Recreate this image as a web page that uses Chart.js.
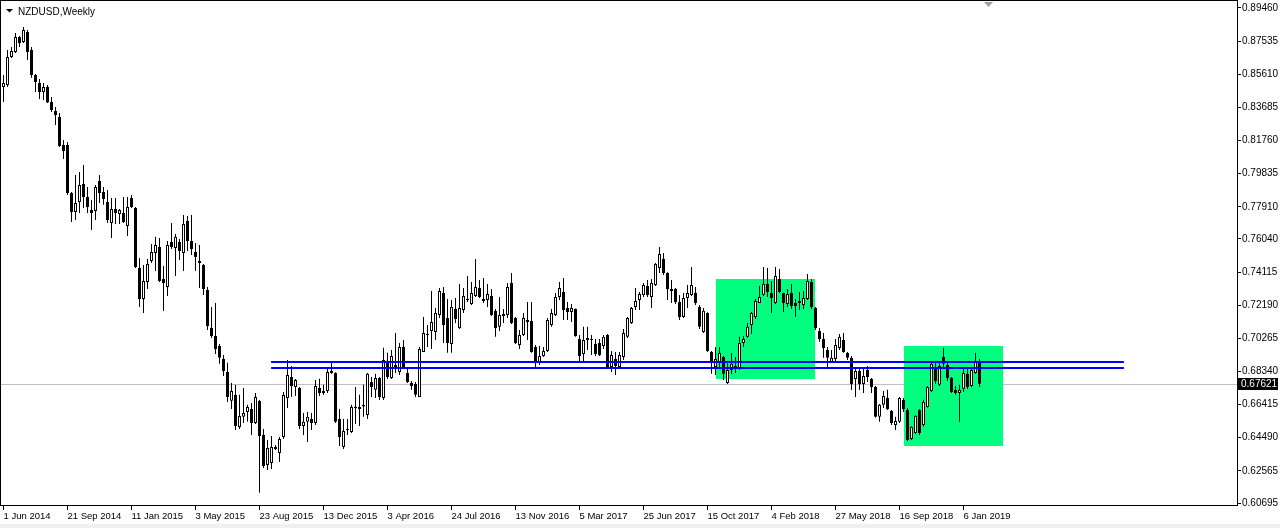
<!DOCTYPE html>
<html>
<head>
<meta charset="utf-8">
<title>NZDUSD,Weekly</title>
<script src="https://cdn.jsdelivr.net/npm/chart.js@4.4.1/dist/chart.umd.min.js"></script>
<style>
  html, body { margin: 0; padding: 0; background: #fff; }
  canvas { display: block; }
</style>
</head>
<body>
<canvas id="chart" width="1280" height="528"></canvas>
<script>
const symbol = 'NZDUSD,Weekly'

// weekly candles, first one is the week of 1 Jun 2014
const open = [
  0.8487, 0.8499, 0.8661, 0.8690, 0.8778, 0.8748, 0.8807, 0.8702, 0.8557, 0.8510,
  0.8458, 0.8487, 0.8400, 0.8348, 0.8313, 0.8150, 0.8150, 0.7871, 0.7761, 0.7819,
  0.7924, 0.7848, 0.7772, 0.7767, 0.7941, 0.7877, 0.7819, 0.7697, 0.7778, 0.7749,
  0.7755, 0.7679, 0.7842, 0.7784, 0.7435, 0.7255, 0.7354, 0.7476, 0.7522, 0.7557,
  0.7371, 0.7325, 0.7586, 0.7551, 0.7586, 0.7522, 0.7709, 0.7592, 0.7528, 0.7476,
  0.7453, 0.7307, 0.7087, 0.7040, 0.6982, 0.6907, 0.6831, 0.6663, 0.6698, 0.6511,
  0.6570, 0.6599, 0.6616, 0.6535, 0.6662, 0.6465, 0.6290, 0.6302, 0.6395, 0.6360,
  0.6453, 0.6680, 0.6802, 0.6744, 0.6738, 0.6517, 0.6541, 0.6558, 0.6535, 0.6738,
  0.6721, 0.6721, 0.6837, 0.6825, 0.6558, 0.6395, 0.6494, 0.6482, 0.6620, 0.6616,
  0.6630, 0.6581, 0.6773, 0.6727, 0.6796, 0.6680, 0.6889, 0.6796, 0.6872, 0.6831,
  0.6976, 0.6825, 0.6767, 0.6761, 0.6686, 0.6947, 0.7052, 0.7069, 0.7063, 0.7162,
  0.7290, 0.7145, 0.6994, 0.7197, 0.7087, 0.7191, 0.7249, 0.7226, 0.7273, 0.7319,
  0.7255, 0.7249, 0.7273, 0.7186, 0.7093, 0.7156, 0.7162, 0.7348, 0.7145, 0.6988,
  0.7046, 0.7133, 0.7127, 0.6976, 0.6883, 0.6924, 0.6953, 0.7104, 0.7162, 0.7267,
  0.7296, 0.7203, 0.7180, 0.7197, 0.7023, 0.6936, 0.7017, 0.7017, 0.6994, 0.7000,
  0.6982, 0.7046, 0.6860, 0.6907, 0.6860, 0.6918, 0.7035, 0.7116, 0.7209, 0.7249,
  0.7278, 0.7331, 0.7267, 0.7336, 0.7435, 0.7488, 0.7406, 0.7313, 0.7313, 0.7238,
  0.7151, 0.7261, 0.7278, 0.7290, 0.7209, 0.7063, 0.7174, 0.6947, 0.6860, 0.6889,
  0.6918, 0.6767, 0.6843, 0.6866, 0.6849, 0.7000, 0.7035, 0.7104, 0.7151, 0.7232,
  0.7279, 0.7342, 0.7290, 0.7232, 0.7371, 0.7290, 0.7226, 0.7290, 0.7232, 0.7232,
  0.7220, 0.7255, 0.7354, 0.7203, 0.7069, 0.7023, 0.6959, 0.6889, 0.6907, 0.6970,
  0.7017, 0.6941, 0.6913, 0.6790, 0.6837, 0.6761, 0.6843, 0.6790, 0.6744, 0.6570,
  0.6640, 0.6680, 0.6605, 0.6523, 0.6541, 0.6668, 0.6610, 0.6442, 0.6477, 0.6610,
  0.6523, 0.6628, 0.6721, 0.6860, 0.6756, 0.6918, 0.6872, 0.6796, 0.6727, 0.6709,
  0.6733, 0.6820, 0.6750, 0.6825, 0.6889
]
const high = [
  0.8557, 0.8702, 0.8719, 0.8801, 0.8784, 0.8836, 0.8818, 0.8719, 0.8563, 0.8533,
  0.8510, 0.8499, 0.8429, 0.8371, 0.8336, 0.8179, 0.8167, 0.7877, 0.7976, 0.7993,
  0.8034, 0.7906, 0.7830, 0.7918, 0.7976, 0.7906, 0.7889, 0.7842, 0.7842, 0.7778,
  0.7848, 0.7848, 0.7860, 0.7790, 0.7493, 0.7453, 0.7487, 0.7575, 0.7616, 0.7610,
  0.7447, 0.7592, 0.7697, 0.7633, 0.7604, 0.7743, 0.7738, 0.7743, 0.7581, 0.7569,
  0.7458, 0.7325, 0.7209, 0.7232, 0.6994, 0.6930, 0.6884, 0.6767, 0.6756, 0.6698,
  0.6738, 0.6640, 0.6651, 0.6709, 0.6668, 0.6500, 0.6436, 0.6459, 0.6406, 0.6453,
  0.6715, 0.6901, 0.6866, 0.6790, 0.6744, 0.6593, 0.6599, 0.6593, 0.6785, 0.6791,
  0.6756, 0.6849, 0.6884, 0.6830, 0.6616, 0.6558, 0.6558, 0.6640, 0.6744, 0.6698,
  0.6756, 0.6825, 0.6802, 0.6820, 0.6802, 0.6971, 0.6942, 0.6959, 0.7058, 0.7000,
  0.7017, 0.6860, 0.6779, 0.6773, 0.6976, 0.7150, 0.7104, 0.7302, 0.7203, 0.7319,
  0.7325, 0.7255, 0.7249, 0.7261, 0.7342, 0.7319, 0.7388, 0.7354, 0.7487, 0.7365,
  0.7377, 0.7342, 0.7313, 0.7197, 0.7267, 0.7197, 0.7348, 0.7406, 0.7151, 0.7075,
  0.7174, 0.7238, 0.7238, 0.6988, 0.6982, 0.6976, 0.7145, 0.7197, 0.7290, 0.7354,
  0.7377, 0.7238, 0.7226, 0.7200, 0.7046, 0.7093, 0.7093, 0.7046, 0.7023, 0.7023,
  0.7046, 0.7052, 0.6953, 0.6947, 0.6947, 0.7081, 0.7151, 0.7209, 0.7319, 0.7296,
  0.7348, 0.7365, 0.7371, 0.7464, 0.7557, 0.7522, 0.7410, 0.7365, 0.7319, 0.7278,
  0.7290, 0.7336, 0.7441, 0.7325, 0.7220, 0.7203, 0.7178, 0.6953, 0.6976, 0.6976,
  0.6924, 0.6895, 0.6941, 0.6918, 0.7035, 0.7040, 0.7116, 0.7180, 0.7255, 0.7331,
  0.7441, 0.7435, 0.7360, 0.7441, 0.7429, 0.7292, 0.7313, 0.7342, 0.7255, 0.7296,
  0.7302, 0.7400, 0.7371, 0.7209, 0.7087, 0.7058, 0.6976, 0.6959, 0.7023, 0.7052,
  0.7058, 0.6947, 0.6924, 0.6860, 0.6854, 0.6860, 0.6866, 0.6796, 0.6750, 0.6645,
  0.6721, 0.6727, 0.6610, 0.6570, 0.6686, 0.6680, 0.6622, 0.6515, 0.6580, 0.6616,
  0.6669, 0.6750, 0.6889, 0.6884, 0.6889, 0.6971, 0.6889, 0.6802, 0.6750, 0.6756,
  0.6849, 0.6849, 0.6854, 0.6941, 0.6907
]
const low = [
  0.8400, 0.8487, 0.8655, 0.8685, 0.8719, 0.8743, 0.8644, 0.8540, 0.8458, 0.8417,
  0.8411, 0.8394, 0.8342, 0.8266, 0.8138, 0.8068, 0.7860, 0.7703, 0.7714, 0.7755,
  0.7784, 0.7755, 0.7656, 0.7714, 0.7813, 0.7802, 0.7697, 0.7610, 0.7691, 0.7691,
  0.7697, 0.7621, 0.7784, 0.7435, 0.7209, 0.7174, 0.7313, 0.7464, 0.7418, 0.7354,
  0.7185, 0.7273, 0.7546, 0.7389, 0.7482, 0.7418, 0.7534, 0.7511, 0.7418, 0.7319,
  0.7278, 0.7075, 0.7029, 0.6936, 0.6878, 0.6808, 0.6657, 0.6616, 0.6494, 0.6500,
  0.6535, 0.6541, 0.6465, 0.6529, 0.6129, 0.6273, 0.6261, 0.6267, 0.6377, 0.6308,
  0.6441, 0.6622, 0.6686, 0.6692, 0.6500, 0.6465, 0.6424, 0.6494, 0.6523, 0.6692,
  0.6698, 0.6709, 0.6820, 0.6535, 0.6401, 0.6383, 0.6465, 0.6477, 0.6528, 0.6517,
  0.6570, 0.6558, 0.6686, 0.6680, 0.6668, 0.6668, 0.6790, 0.6790, 0.6825, 0.6814,
  0.6849, 0.6767, 0.6727, 0.6686, 0.6686, 0.6947, 0.6976, 0.6965, 0.7017, 0.7145,
  0.7000, 0.6942, 0.6942, 0.7115, 0.7081, 0.7174, 0.7238, 0.7220, 0.7267, 0.7261,
  0.7232, 0.7209, 0.7156, 0.7035, 0.7069, 0.7115, 0.7145, 0.7110, 0.6994, 0.6965,
  0.7040, 0.7017, 0.6942, 0.6860, 0.6872, 0.6918, 0.6947, 0.7093, 0.7156, 0.7249,
  0.7133, 0.7133, 0.7122, 0.7035, 0.6889, 0.6889, 0.6959, 0.6930, 0.6924, 0.6924,
  0.6965, 0.6854, 0.6831, 0.6814, 0.6854, 0.6901, 0.7029, 0.7110, 0.7191, 0.7191,
  0.7267, 0.7267, 0.7203, 0.7331, 0.7406, 0.7395, 0.7249, 0.7232, 0.7226, 0.7133,
  0.7145, 0.7203, 0.7273, 0.7220, 0.7081, 0.7058, 0.6947, 0.6820, 0.6814, 0.6849,
  0.6784, 0.6761, 0.6819, 0.6825, 0.6843, 0.6976, 0.7029, 0.7052, 0.7139, 0.7232,
  0.7273, 0.7267, 0.7174, 0.7226, 0.7290, 0.7180, 0.7209, 0.7197, 0.7151, 0.7191,
  0.7197, 0.7249, 0.7197, 0.7075, 0.7006, 0.6913, 0.6854, 0.6883, 0.6895, 0.6959,
  0.6942, 0.6901, 0.6726, 0.6686, 0.6726, 0.6709, 0.6773, 0.6709, 0.6565, 0.6541,
  0.6622, 0.6610, 0.6523, 0.6494, 0.6535, 0.6599, 0.6430, 0.6436, 0.6471, 0.6465,
  0.6512, 0.6624, 0.6715, 0.6761, 0.6750, 0.6860, 0.6779, 0.6709, 0.6698, 0.6541,
  0.6715, 0.6732, 0.6744, 0.6820, 0.6744
]
const close = [
  0.8510, 0.8661, 0.8696, 0.8778, 0.8743, 0.8818, 0.8690, 0.8557, 0.8516, 0.8458,
  0.8487, 0.8397, 0.8353, 0.8324, 0.8144, 0.8115, 0.7871, 0.7761, 0.7813, 0.7918,
  0.7848, 0.7790, 0.7755, 0.7906, 0.7871, 0.7836, 0.7714, 0.7778, 0.7755, 0.7772,
  0.7703, 0.7790, 0.7790, 0.7441, 0.7255, 0.7360, 0.7458, 0.7528, 0.7569, 0.7360,
  0.7348, 0.7569, 0.7557, 0.7616, 0.7534, 0.7691, 0.7592, 0.7546, 0.7499, 0.7464,
  0.7313, 0.7098, 0.7040, 0.6965, 0.6913, 0.6837, 0.6686, 0.6721, 0.6517, 0.6575,
  0.6593, 0.6628, 0.6535, 0.6686, 0.6459, 0.6284, 0.6389, 0.6395, 0.6383, 0.6441,
  0.6697, 0.6814, 0.6750, 0.6785, 0.6517, 0.6541, 0.6570, 0.6535, 0.6750, 0.6709,
  0.6709, 0.6831, 0.6825, 0.6541, 0.6453, 0.6488, 0.6500, 0.6628, 0.6630, 0.6628,
  0.6640, 0.6820, 0.6744, 0.6796, 0.6686, 0.6901, 0.6802, 0.6924, 0.6854, 0.6976,
  0.6854, 0.6773, 0.6750, 0.6698, 0.6965, 0.7058, 0.7046, 0.7121, 0.7174, 0.7302,
  0.7104, 0.7000, 0.7209, 0.7139, 0.7203, 0.7273, 0.7255, 0.7290, 0.7325, 0.7267,
  0.7244, 0.7284, 0.7162, 0.7087, 0.7162, 0.7168, 0.7325, 0.7116, 0.7000, 0.7046,
  0.7145, 0.7122, 0.6947, 0.6883, 0.6924, 0.6953, 0.7133, 0.7174, 0.7267, 0.7319,
  0.7191, 0.7180, 0.7203, 0.7040, 0.6924, 0.7017, 0.7029, 0.7023, 0.6936, 0.6930,
  0.7035, 0.6860, 0.6930, 0.6866, 0.6930, 0.7058, 0.7145, 0.7203, 0.7244, 0.7284,
  0.7336, 0.7278, 0.7348, 0.7459, 0.7516, 0.7406, 0.7313, 0.7302, 0.7238, 0.7151,
  0.7261, 0.7290, 0.7336, 0.7232, 0.7093, 0.7186, 0.6953, 0.6883, 0.6907, 0.6942,
  0.6820, 0.6842, 0.6878, 0.6849, 0.7000, 0.7023, 0.7093, 0.7174, 0.7244, 0.7267,
  0.7342, 0.7296, 0.7261, 0.7389, 0.7296, 0.7232, 0.7284, 0.7215, 0.7215, 0.7244,
  0.7261, 0.7360, 0.7209, 0.7087, 0.7023, 0.6970, 0.6913, 0.6913, 0.6988, 0.7035,
  0.6947, 0.6913, 0.6761, 0.6837, 0.6761, 0.6808, 0.6802, 0.6744, 0.6570, 0.6640,
  0.6692, 0.6616, 0.6535, 0.6546, 0.6680, 0.6616, 0.6436, 0.6512, 0.6576, 0.6477,
  0.6657, 0.6744, 0.6878, 0.6779, 0.6866, 0.6878, 0.6796, 0.6715, 0.6709, 0.6727,
  0.6825, 0.6744, 0.6843, 0.6889, 0.6762
]

// time axis labels, one every 16 weeks
const dateLabels = [
  '1 Jun 2014', '21 Sep 2014', '11 Jan 2015', '3 May 2015', '23 Aug 2015', '13 Dec 2015',
  '3 Apr 2016', '24 Jul 2016', '13 Nov 2016', '5 Mar 2017', '25 Jun 2017', '15 Oct 2017',
  '4 Feb 2018', '27 May 2018', '16 Sep 2018', '6 Jan 2019'
]
const labelStep = 16
const priceTicks = [
  0.89460, 0.87535, 0.85610, 0.83685, 0.81760, 0.79835, 0.77910, 0.76040,
  0.74115, 0.72190, 0.70265, 0.68340, 0.66415, 0.64490, 0.62565, 0.60695
]
const lastPrice = 0.67621

// drawn objects, in bar index / price units
const levelPrices = [0.68888, 0.68539]
const levelSpan = [66.9, 280.1]
const boxStart = [178, 225]
const boxEnd = [203, 250]
const boxTop = [0.73711, 0.69818]
const boxBottom = [0.67917, 0.64024]
const shiftBar = 246

const pxPerPrice = 1720.85
const yMax = 0.89460 + 8 / pxPerPrice
const yMin = yMax - 506 / pxPerPrice

Chart.defaults.font.family = '"Liberation Sans", Arial, sans-serif'
Chart.defaults.color = '#000'

const idx = open.map((_, i) => i)
const wicks = idx.map(i => ({ x: i, y: [low[i], high[i]] }))
const bodies = idx.map(i => ({ x: i, y: [open[i], close[i]] }))

const overlay = {
  id: 'overlay',
  beforeDraw(chart) {
    const { ctx } = chart
    ctx.save()
    ctx.fillStyle = '#fff'
    ctx.fillRect(0, 0, chart.width, chart.height)
    ctx.fillStyle = '#f0f0f0'
    ctx.fillRect(0, 524, chart.width, 4)
    ctx.restore()
  },
  beforeDatasetsDraw(chart) {
    const { ctx, chartArea: a, scales: { x, y } } = chart
    ctx.save()
    const py = Math.round(y.getPixelForValue(lastPrice)) + 0.5
    ctx.strokeStyle = '#c0c0c0'
    ctx.lineWidth = 1
    ctx.beginPath()
    ctx.moveTo(a.left, py)
    ctx.lineTo(a.right, py)
    ctx.stroke()
    ctx.fillStyle = '#00ff7f'
    boxStart.forEach((b, k) => {
      const x1 = Math.round(x.getPixelForValue(b))
      const x2 = Math.round(x.getPixelForValue(boxEnd[k]))
      const y1 = Math.round(y.getPixelForValue(boxTop[k]))
      const y2 = Math.round(y.getPixelForValue(boxBottom[k]))
      ctx.fillRect(x1, y1, x2 - x1, y2 - y1)
    })
    ctx.restore()
  },
  afterDatasetsDraw(chart) {
    const { ctx, scales: { x, y } } = chart
    ctx.save()
    ctx.strokeStyle = '#0000ff'
    ctx.lineWidth = 2
    const x1 = x.getPixelForValue(levelSpan[0])
    const x2 = x.getPixelForValue(levelSpan[1])
    levelPrices.forEach(p => {
      const ly = Math.round(y.getPixelForValue(p))
      ctx.beginPath()
      ctx.moveTo(x1, ly)
      ctx.lineTo(x2, ly)
      ctx.stroke()
    })
    ctx.restore()
  },
  afterDraw(chart) {
    const { ctx, chartArea: a, scales: { x, y } } = chart
    ctx.save()
    // frame
    ctx.strokeStyle = '#000'
    ctx.lineWidth = 1
    ctx.strokeRect(a.left + 0.5, a.top + 0.5, a.right - a.left - 1, a.bottom - a.top - 1)

    // symbol caption
    ctx.fillStyle = '#000'
    ctx.beginPath()
    ctx.moveTo(6, 9)
    ctx.lineTo(13, 9)
    ctx.lineTo(9.5, 12.5)
    ctx.closePath()
    ctx.fill()
    ctx.font = '10px "Liberation Sans", Arial, sans-serif'
    ctx.textBaseline = 'alphabetic'
    ctx.textAlign = 'left'
    ctx.fillText(symbol, 18, 15)

    // chart shift marker
    const sx = Math.round(x.getPixelForValue(shiftBar))
    ctx.fillStyle = '#a0a0a0'
    ctx.beginPath()
    ctx.moveTo(sx - 4, 2)
    ctx.lineTo(sx + 5, 2)
    ctx.lineTo(sx + 0.5, 7)
    ctx.closePath()
    ctx.fill()

    // last price tag
    const py = Math.round(y.getPixelForValue(lastPrice))
    ctx.fillStyle = '#000'
    ctx.fillRect(a.right, py - 6, 40, 12)
    ctx.fillStyle = '#fff'
    ctx.font = '10px "Liberation Sans", Arial, sans-serif'
    ctx.textBaseline = 'middle'
    ctx.fillText(lastPrice.toFixed(5), a.right + 3, py + 0.5)
    ctx.restore()
  }
}

new Chart(document.getElementById('chart'), {
  type: 'bar',
  data: {
    datasets: [
      {
        label: 'range',
        data: wicks,
        stack: 'candle',
        order: 2,
        barThickness: 1,
        backgroundColor: '#000',
        borderWidth: 0,
        inflateAmount: 0
      },
      {
        label: 'body',
        data: bodies,
        stack: 'candle',
        order: 1,
        barThickness: 3,
        backgroundColor: c => close[c.dataIndex] >= open[c.dataIndex] ? '#fff' : '#000',
        borderColor: '#000',
        borderWidth: 1,
        borderSkipped: false,
        inflateAmount: 0
      }
    ]
  },
  options: {
    responsive: false,
    animation: false,
    devicePixelRatio: 1,
    layout: { padding: 0 },
    events: [],
    plugins: {
      legend: { display: false },
      tooltip: { enabled: false }
    },
    scales: {
      x: {
        type: 'linear',
        stacked: true,
        bounds: 'data',
        min: -0.875,
        max: 308.625,
        offset: false,
        grid: { drawOnChartArea: false, drawTicks: true, tickLength: 4, color: '#000', offset: false },
        border: { display: false },
        ticks: {
          autoSkip: false,
          maxRotation: 0,
          minRotation: 0,
          align: 'start',
          padding: 1,
          color: '#000',
          font: { size: 9.5 },
          callback: (v, i) => dateLabels[i]
        },
        afterBuildTicks: s => { s.ticks = dateLabels.map((_, k) => ({ value: k * labelStep })) },
        afterFit: s => { s.height = 22; s.paddingLeft = 0; s.paddingRight = 0 }
      },
      y: {
        type: 'linear',
        position: 'right',
        stacked: false,
        bounds: 'data',
        min: yMin,
        max: yMax,
        grid: { drawOnChartArea: false, drawTicks: true, tickLength: 3, color: '#000' },
        border: { display: false },
        ticks: {
          autoSkip: false,
          padding: 1,
          color: '#000',
          font: { size: 10 },
          callback: v => v.toFixed(5)
        },
        afterBuildTicks: s => { s.ticks = priceTicks.map(v => ({ value: v })) },
        afterFit: s => { s.width = 42; s.paddingTop = 0; s.paddingBottom = 0 }
      }
    }
  },
  plugins: [overlay]
})
</script>
</body>
</html>
